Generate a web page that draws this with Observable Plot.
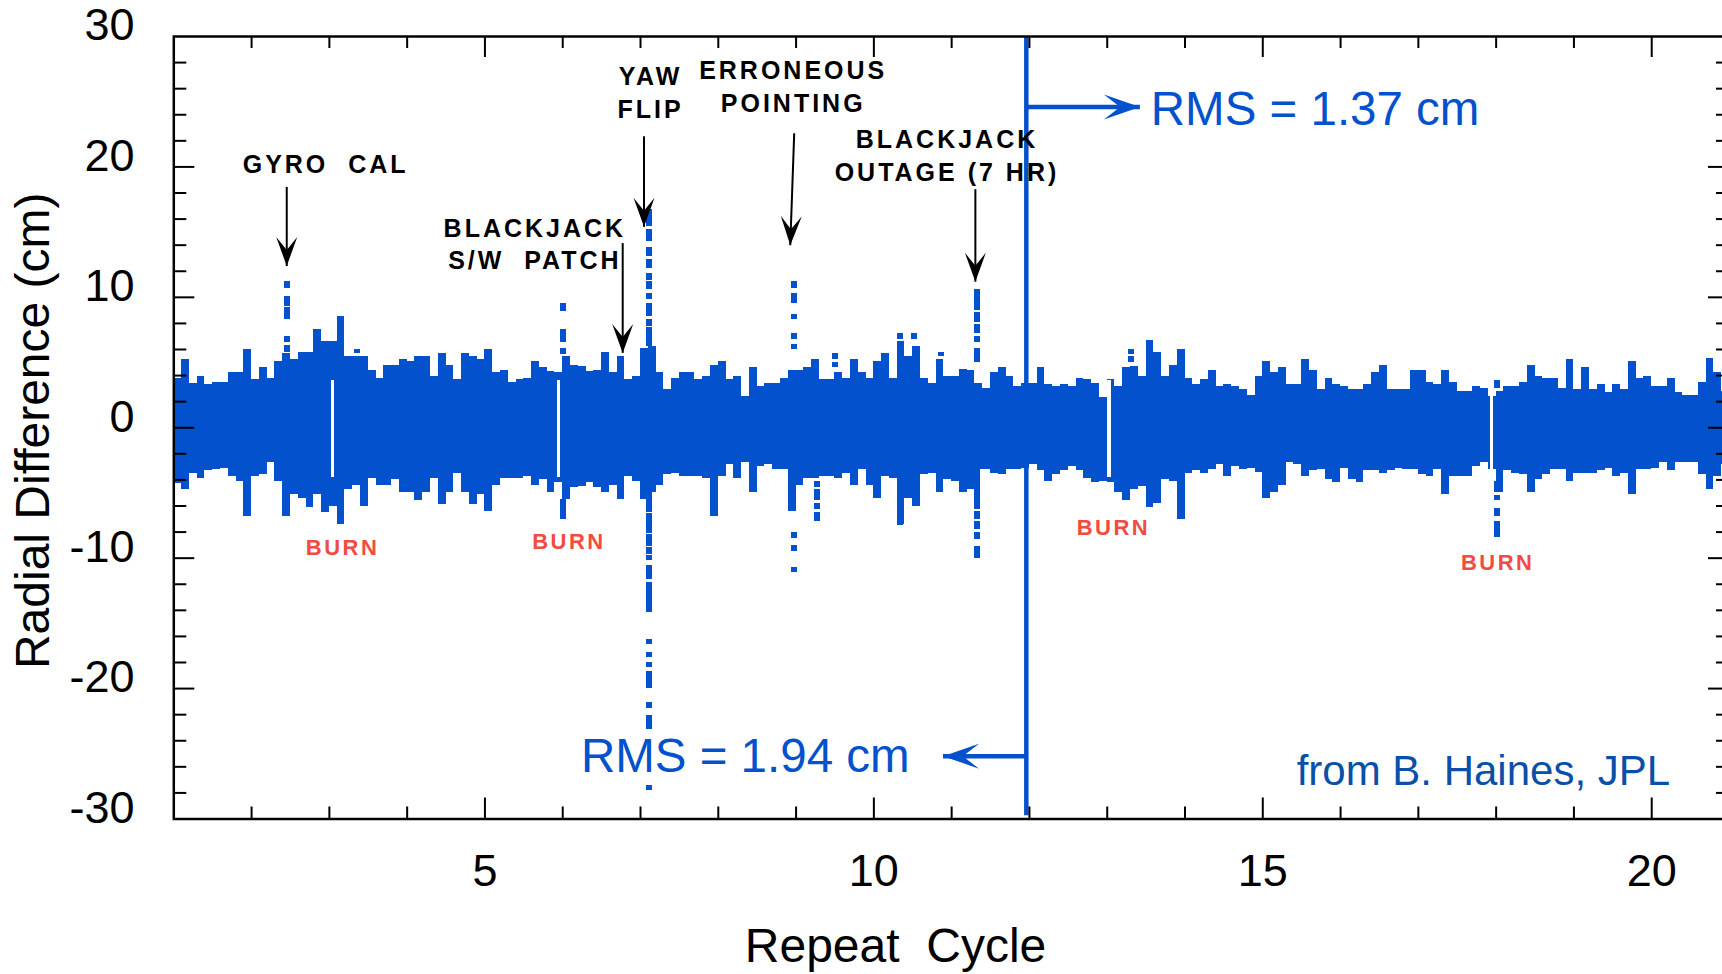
<!DOCTYPE html>
<html>
<head>
<meta charset="utf-8">
<script src="https://cdn.jsdelivr.net/npm/d3@7"></script>
<script src="https://cdn.jsdelivr.net/npm/@observablehq/plot@0.6"></script>
<style>
  html, body { margin: 0; padding: 0; background: #fff; overflow: hidden; }
  g[font-size="25"] text { letter-spacing: 3px; }
  g[font-size="22"] text { letter-spacing: 2.5px; }
</style>
</head>
<body>
<div id="chart"></div>
<script>
// ---------- DATA ----------
// Residual envelope per 0.1-cycle bin, starting at cycle 1.0 (cm)
const binStartCycle = 1.0;
const binWidth = 0.1;
const upperCm = [
  3.8,5.2,3.4,3.9,3.3,3.5,3.5,4.2,4.2,6.0,
  3.7,4.6,3.8,5.1,5.7,5.2,5.8,5.8,7.5,6.6,
  6.6,8.5,5.5,5.5,5.5,4.4,3.8,4.8,4.8,5.2,
  5.1,5.5,5.5,3.9,5.7,4.8,3.7,5.7,5.5,5.2,
  6.0,4.2,4.4,3.5,3.7,3.8,5.1,4.6,4.3,4.2,
  5.5,4.8,4.7,4.3,4.4,5.8,4.2,5.5,3.7,3.9,
  6.1,6.2,4.2,2.9,3.8,4.2,4.2,3.7,3.9,4.8,
  5.1,3.7,3.9,2.4,4.6,3.2,3.4,3.4,3.8,4.4,
  4.4,4.6,5.2,3.7,3.7,4.2,3.8,5.2,4.2,3.8,
  5.1,5.7,3.8,6.6,5.5,6.2,3.8,3.4,5.2,3.9,
  3.9,4.5,4.4,3.4,3.0,4.2,4.6,3.9,3.2,3.4,
  3.4,4.6,3.3,3.2,3.3,3.2,3.8,3.7,3.4,2.3,
  3.7,3.2,4.6,4.7,3.9,6.7,5.8,3.9,4.8,6.0,
  3.8,3.3,3.7,4.4,3.2,3.3,3.2,2.9,2.5,3.9,
  5.1,4.2,4.6,3.3,3.3,5.2,4.4,2.9,3.8,3.3,
  3.2,2.9,2.9,3.3,4.2,4.8,2.9,2.9,2.9,4.4,
  4.4,3.5,3.3,4.4,3.5,2.8,2.8,3.2,3.0,2.4,
  2.8,3.2,3.2,3.5,4.8,3.9,3.8,3.8,3.0,5.2,
  2.9,4.6,2.9,3.3,2.7,3.3,2.9,5.1,3.8,3.9,
  3.2,3.2,3.8,2.7,2.5,2.5,3.5,5.3,4.2,2.8
];
const lowerCm = [
  -4.3,-4.7,-3.5,-3.9,-3.3,-3.2,-3.1,-3.7,-4.1,-6.8,
  -3.7,-3.6,-2.7,-4.1,-6.8,-5.1,-5.4,-6.1,-5.1,-6.5,
  -6.0,-7.4,-4.7,-4.4,-6.0,-3.9,-4.4,-4.4,-4.0,-5.0,
  -5.0,-5.6,-5.0,-3.9,-5.9,-5.0,-3.5,-5.0,-5.9,-5.1,
  -6.4,-4.4,-3.9,-3.9,-3.9,-3.7,-4.4,-4.0,-5.0,-4.2,
  -5.5,-4.6,-4.5,-4.2,-4.6,-5.0,-4.4,-5.5,-3.7,-4.1,
  -5.5,-5.0,-4.4,-3.6,-3.5,-3.7,-3.7,-3.7,-3.9,-6.8,
  -3.7,-2.8,-3.9,-2.7,-5.0,-3.0,-2.8,-3.2,-3.2,-6.4,
  -4.4,-3.9,-3.9,-3.7,-3.7,-3.9,-3.5,-4.4,-3.2,-4.4,
  -5.4,-3.7,-3.9,-7.4,-5.4,-6.0,-3.6,-3.5,-5.0,-4.0,
  -4.1,-5.0,-4.7,-3.2,-3.2,-3.5,-3.6,-3.2,-3.2,-3.1,
  -2.8,-3.3,-4.1,-3.6,-3.3,-3.0,-3.3,-3.9,-4.2,-4.1,
  -4.2,-5.0,-5.6,-4.7,-4.5,-6.1,-5.8,-4.0,-4.1,-7.0,
  -3.5,-3.3,-3.5,-3.2,-2.8,-3.7,-3.0,-3.2,-3.1,-3.4,
  -5.4,-5.0,-4.4,-2.7,-2.8,-3.7,-3.3,-3.2,-4.0,-4.2,
  -3.1,-4.0,-4.2,-3.3,-3.3,-3.5,-3.3,-3.1,-3.2,-3.2,
  -3.6,-3.7,-3.2,-5.1,-3.7,-3.7,-3.7,-3.0,-2.7,-3.2,
  -5.0,-3.3,-3.5,-3.6,-5.0,-4.0,-3.6,-3.2,-3.2,-4.1,
  -3.5,-3.5,-3.5,-3.3,-3.1,-3.7,-3.5,-5.1,-3.2,-3.2,
  -3.1,-2.7,-3.3,-2.7,-2.7,-2.7,-3.6,-4.7,-3.7,-2.8
];

// Isolated outlier runs (cycle, bottom cm, top cm)
const spikeCycle = [
  2.45,2.45,2.45,2.45,2.45,
  3.35,
  6.00,6.00,6.00,6.00,
  7.11,7.11,7.11,7.11,7.11,7.11,7.11,7.11,7.11,7.11,
  7.11,7.11,7.11,7.11,7.11,7.11,7.11,7.11,7.11,7.11,7.11,7.11,7.11,7.11,
  8.97,8.97,8.97,8.97,8.97,8.97,8.97,8.97,
  9.27,9.27,9.27,9.27,
  9.50,9.50,
  10.33,10.33,
  10.51,
  10.86,
  11.33,11.33,11.33,11.33,11.33,11.33,11.33,11.33,11.33,11.33,
  13.30,13.30,
  18.01,18.01,18.01,18.01,18.01
];
const spikeBottom = [
  5.8,6.5,8.3,9.3,10.7,
  5.7,
  5.6,6.5,8.9,-7.0,
  6.2,7.8,8.5,9.8,10.6,11.3,12.2,13.1,14.3,15.4,
  -6.5,-8.1,-9.1,-9.7,-10.2,-11.6,-14.2,-16.6,-17.6,-18.4,-20.0,-21.5,-23.1,-27.8,
  6.0,6.8,8.3,9.5,10.7,-8.5,-9.5,-11.1,
  -4.6,-5.6,-6.3,-7.2,
  4.6,5.2,
  6.8,-7.5,
  6.8,
  5.5,
  5.0,6.5,7.2,8.1,9.0,-6.3,-7.0,-7.8,-8.6,-10.0,
  5.0,5.6,
  3.0,-5.0,-5.6,-6.8,-8.4
];
const spikeTop = [
  6.3,7.0,9.2,10.1,11.2,
  6.0,
  6.1,7.5,9.5,-5.5,
  7.7,8.3,9.5,10.3,11.2,11.8,12.9,13.8,15.2,16.7,
  -3.5,-6.6,-8.2,-9.2,-9.8,-10.6,-11.9,-16.2,-17.2,-18.0,-18.7,-21.1,-22.1,-27.4,
  6.4,7.2,8.7,10.3,11.2,-8.0,-9.0,-10.7,
  -4.1,-4.7,-5.8,-6.5,
  5.0,5.7,
  7.2,-7.0,
  7.2,
  5.8,
  6.1,7.0,7.9,8.8,10.6,-3.2,-6.4,-7.2,-8.0,-9.1,
  5.5,6.0,
  3.6,-4.1,-5.2,-6.2,-7.2
];

// Burn gaps between cycles
const gapCycle = [3.04, 5.945, 13.02, 17.94];

// Axis ticks
const xTickLabels = [5, 10, 15, 20];
const xMinorTicks = [2,3,4,6,7,8,9,11,12,13,14,16,17,18,19];
const yTickLabels = [30, 20, 10, 0, -10, -20, -30];
const yMajorInner = [20, 10, 0, -10, -20];
const yMinorTicks = [28,26,24,22,18,16,14,12,8,6,4,2,-2,-4,-6,-8,-12,-14,-16,-18,-22,-24,-26,-28];

// Annotations
const eventLabels = ["GYRO  CAL", "BLACKJACK\nS/W  PATCH", "YAW\nFLIP", "ERRONEOUS\nPOINTING", "BLACKJACK\nOUTAGE (7 HR)"];
const eventLabelX = [2.952, 5.642, 7.129, 8.963, 10.94];
const eventLabelY = [19.56, 12.15, 23.78, 24.21, 18.94];
const eventArrowX1 = [2.452, 6.771, 7.045, 8.976, 11.305];
const eventArrowY1 = [18.47, 14.16, 22.35, 22.58, 18.29];
const eventArrowX2 = [2.452, 6.771, 7.045, 8.925, 11.305];
const eventArrowY2 = [12.40, 5.74, 15.41, 14.0, 11.20];

const burnX = [3.17, 6.08, 13.08, 18.02];
const burnY = [-9.72, -9.26, -8.26, -10.87];

const splitCycle = 11.96;
const rmsLabels = ["RMS = 1.37 cm", "RMS = 1.94 cm"];
const rmsLabelX = [13.56, 6.234];
const rmsLabelY = [23.19, -26.37];
const rmsArrowTipX = [13.42, 10.889];
const rmsArrowY = [24.59, -25.18];

const creditText = "from B. Haines, JPL";
const creditX = 15.435, creditY = -27.41;

// ---------- LAYOUT ----------
const W = 1722, H = 974;
const ML = 173.3, MR = -7, MT = 36, MB = 155.5;
const frameW = W - ML - MR, frameH = H - MT - MB;
const kx = frameW / 20, ky = frameH / 60;
const BLUE = "#0351cc";
const FONT = "'Liberation Sans', Arial, Helvetica, sans-serif";

const bins = upperCm.map((hi, i) => ({
  x1: binStartCycle + i * binWidth,
  x2: binStartCycle + (i + 1) * binWidth,
  lo: lowerCm[i], hi
}));
const spikes = spikeCycle.map((x, i) => ({x, y1: spikeBottom[i], y2: spikeTop[i]}));
const angleOf = (x1, y1, x2, y2) => Math.atan2((x2 - x1) * kx, (y2 - y1) * ky) * 180 / Math.PI;
const eventArrows = eventArrowX1.map((x1, i) => ({
  x1, y1: eventArrowY1[i], x2: eventArrowX2[i], y2: eventArrowY2[i],
  angle: angleOf(x1, eventArrowY1[i], eventArrowX2[i], eventArrowY2[i])
}));
const rmsArrows = rmsArrowTipX.map((x2, i) => ({
  x1: splitCycle, y1: rmsArrowY[i], x2, y2: rmsArrowY[i],
  angle: angleOf(splitCycle, rmsArrowY[i], x2, rmsArrowY[i])
}));
const events = eventLabels.map((t, i) => ({t, x: eventLabelX[i], y: eventLabelY[i]}));
const burns = burnX.map((x, i) => ({x, y: burnY[i]}));
const rms = rmsLabels.map((t, i) => ({t, x: rmsLabelX[i], y: rmsLabelY[i]}));

const headShape = (half) => ({
  draw(ctx, l) {
    ctx.moveTo(0, -l);
    ctx.lineTo(half, 0);
    ctx.lineTo(0, -0.45 * l);
    ctx.lineTo(-half, 0);
    ctx.closePath();
  }
});

const chart = Plot.plot({
  width: W, height: H,
  marginLeft: ML, marginRight: MR, marginTop: MT, marginBottom: MB,
  x: {domain: [1, 21], axis: null},
  y: {domain: [-30, 30], axis: null},
  style: {fontFamily: FONT, background: "white", color: "black", overflow: "visible"},
  marks: [
    // residual band
    Plot.rect(bins, {x1: "x1", x2: "x2", y1: "lo", y2: "hi", fill: BLUE, shapeRendering: "crispEdges"}),
    // burn gaps
    Plot.ruleX(gapCycle, {x: d => d, y1: -3.8, y2: 3.6, stroke: "white", strokeWidth: 3.5, shapeRendering: "crispEdges"}),
    // outliers
    Plot.ruleX(spikes, {x: "x", y1: "y1", y2: "y2", stroke: BLUE, strokeWidth: 6, shapeRendering: "crispEdges"}),
    // split line
    Plot.ruleX([splitCycle], {x: d => d, y1: -29.75, y2: 30, stroke: BLUE, strokeWidth: 4.5}),
    // RMS arrows
    Plot.link(rmsArrows, {x1: "x1", y1: "y1", x2: "x2", y2: "y2", stroke: BLUE, strokeWidth: 4.5}),
    Plot.vector(rmsArrows, {x: "x2", y: "y2", rotate: "angle", length: 36, anchor: "end", shape: headShape(12.5), fill: BLUE, stroke: "none"}),
    // event arrows
    Plot.link(eventArrows, {x1: "x1", y1: "y1", x2: "x2", y2: "y2", stroke: "black", strokeWidth: 2}),
    Plot.vector(eventArrows, {x: "x2", y: "y2", rotate: "angle", length: 29, anchor: "end", shape: headShape(10.5), fill: "black", stroke: "none"}),
    // event labels
    Plot.text(events, {x: "x", y: "y", text: "t", fontSize: 25, fontWeight: "bold", fill: "black", textAnchor: "middle", lineAnchor: "bottom", lineHeight: 1.31}),
    Plot.text(burns, {x: "x", y: "y", text: () => "BURN", fontSize: 22, fontWeight: "bold", fill: "#f24b3f", textAnchor: "middle", lineAnchor: "bottom"}),
    Plot.text(rms, {x: "x", y: "y", text: "t", fontSize: 47.5, fill: BLUE, textAnchor: "start", lineAnchor: "bottom"}),
    Plot.text([creditText], {x: creditX, y: creditY, text: d => d, fontSize: 42, fill: "#0a4fa8", textAnchor: "start", lineAnchor: "bottom"}),
    // ticks (inward)
    Plot.ruleX(xTickLabels, {x: d => d, insetTop: frameH - 21, stroke: "black", strokeWidth: 2}),
    Plot.ruleX(xMinorTicks, {x: d => d, insetTop: frameH - 12, stroke: "black", strokeWidth: 2}),
    Plot.ruleX(xTickLabels, {x: d => d, insetBottom: frameH - 21, stroke: "black", strokeWidth: 2}),
    Plot.ruleX(xMinorTicks, {x: d => d, insetBottom: frameH - 12, stroke: "black", strokeWidth: 2}),
    Plot.ruleY(yMajorInner, {y: d => d, insetRight: frameW - 21, stroke: "black", strokeWidth: 2}),
    Plot.ruleY(yMinorTicks, {y: d => d, insetRight: frameW - 13, stroke: "black", strokeWidth: 2}),
    Plot.ruleY(yMajorInner, {y: d => d, insetLeft: frameW - 21, stroke: "black", strokeWidth: 2}),
    Plot.ruleY(yMinorTicks, {y: d => d, insetLeft: frameW - 13, stroke: "black", strokeWidth: 2}),
    Plot.frame({stroke: "black", strokeWidth: 2.5}),
    // tick labels
    Plot.text(yTickLabels, {y: d => d, text: d => String(d), frameAnchor: "left", dx: -39.3, dy: -10.5, textAnchor: "end", lineAnchor: "middle", fontSize: 45, fill: "black"}),
    Plot.text(xTickLabels, {x: d => d, text: d => String(d), frameAnchor: "bottom", dy: 67, textAnchor: "middle", lineAnchor: "bottom", fontSize: 45, fill: "black"}),
    // axis titles
    Plot.text(["Radial Difference (cm)"], {text: d => d, frameAnchor: "left", dx: 48 - ML, dy: 3, rotate: -90, textAnchor: "middle", lineAnchor: "bottom", fontSize: 48, fill: "black"}),
    Plot.text(["Repeat  Cycle"], {text: d => d, frameAnchor: "bottom", dx: 895 - (ML + frameW / 2), dy: 143, textAnchor: "middle", lineAnchor: "bottom", fontSize: 48, fill: "black"})
  ]
});
document.getElementById("chart").appendChild(chart);
</script>
</body>
</html>
